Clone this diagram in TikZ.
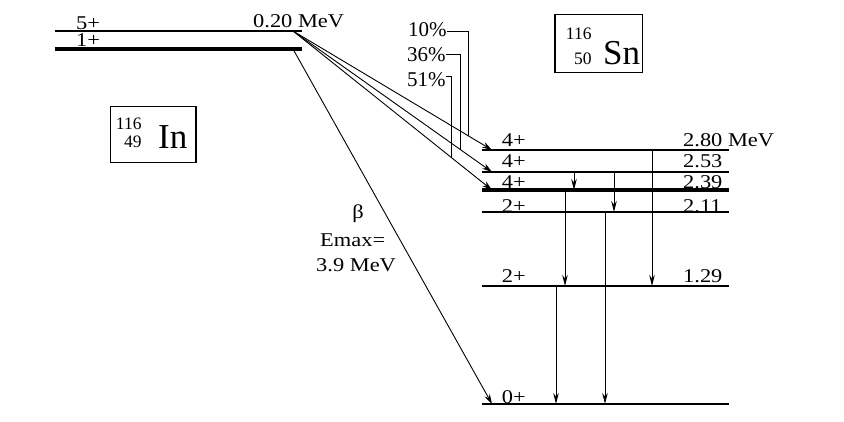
\documentclass[tikz,border=0pt]{standalone}
\usepackage{fontspec}
\setmainfont{Liberation Serif}
\newfontfamily\widefont[FakeStretch=1.15]{Liberation Serif}
\usetikzlibrary{arrows.meta,
	calc,
	positioning}

\begin{document}
\begin{tikzpicture}[x=1pt, y=-1pt,
	level/.style={line width=2pt},
	thicklevel/.style={line width=3.2pt},
	link/.style={line width=0.9pt},
	decay/.style={link, -{Stealth[length=10pt, width=6pt]}},
	gamma/.style={link, -{Stealth[length=11pt, width=5.5pt]}},
	lvlabel/.style={font=\widefont\fontsize{19.5}{22}\selectfont, inner sep=0pt, anchor=base west},
	pct/.style={font=\fontsize{21}{24}\selectfont, inner sep=0pt, anchor=base west},
	isobox/.style={draw, line width=1.1pt, inner sep=0pt},
	mass/.style={font=\fontsize{17.5}{20}\selectfont, inner sep=0pt, anchor=base east},
	element/.style={font=\fontsize{35}{40}\selectfont, inner sep=0pt, anchor=base west}]
	\useasboundingbox (0,0) rectangle (844,422);
	% parent levels
	\draw[level] (55,31) -- (301.7,31);
	\draw[thicklevel] (55,49) -- (301.7,49);
	\coordinate (top) at (293,31);
	\coordinate (low) at (293,49);
	\node[lvlabel] (s5) at (76,30) {5+};
	\node[lvlabel] (s1) at (76,46.7) {1+};
	\node[lvlabel] (e020) at (253,28) {0.20 MeV};
	% daughter levels
	\foreach \name/\y/\base/\spin/\style in {L280/150/146.5/4+/level, L253/172/168/4+/level, L239/190/188.5/4+/thicklevel, L211/212/213/2+/level, L129/286/283/2+/level, L0/404/403.5/0+/level} {
		\draw[\style] (482,\y) coordinate (\name) -- (729,\y);
		\node[lvlabel] (\name-spin) at (501.7,\base) {\spin};
	}
	\foreach \name/\base/\en in {L280/146.5/2.80 MeV, L253/168/2.53, L239/188.5/2.39, L211/213/2.11, L129/283/1.29}
		\node[lvlabel] (\name-en) at (683,\base) {\en};
	% beta branches
	\draw[decay] (top) -- coordinate[pos=0.884] (t10) ([xshift=10pt]L280);
	\draw[decay] (top) -- coordinate[pos=0.843] (t36) ([xshift=10pt]L253);
	\draw[decay] (top) -- coordinate[pos=0.797] (t51) ([xshift=10pt]L239);
	\draw[decay] (low) -- ([xshift=10pt]L0);
	\node[pct] (p10) at (408,36.7) {10\%};
	\node[pct] (p36) at (407,61.7) {36\%};
	\node[pct] (p51) at (407,86.7) {51\%};
	\draw[link] ([yshift=-2pt]p10.east) -| (t10);
	\draw[link] (p36.east) -| (t36);
	\draw[link] ([yshift=3pt]p51.east) -| (t51);
	\node[lvlabel, anchor=base] (beta) at (358,219) {β};
	\node[lvlabel] (emax) at (320,246.7) {Emax=};
	\node[lvlabel] (qval) at (316,271.7) {3.9 MeV};
	% gamma transitions
	\foreach \x/\from/\to in {652/L280/L129, 574/L253/L239, 614/L253/L211, 565/L239/L129, 605/L211/L0, 556/L129/L0}
		\draw[gamma] (\x,0 |- \from) -- (\x,0 |- \to);
	% nuclide boxes
	\node[isobox, minimum width=85.3pt, minimum height=55.7pt] (InBox) at (153.3,134.8) {};
	\node[mass] (InA) at (141.7,129.5) {116};
	\node[mass] (InZ) at (141.7,147.5) {49};
	\node[element] (InSym) at (158,149) {In};
	\node[isobox, minimum width=87.7pt, minimum height=57.3pt] (SnBox) at (598.8,43.6) {};
	\node[mass] (SnA) at (591.7,39.3) {116};
	\node[mass] (SnZ) at (591.7,65) {50};
	\node[element] (SnSym) at (603,65) {Sn};
\end{tikzpicture}
\end{document}
